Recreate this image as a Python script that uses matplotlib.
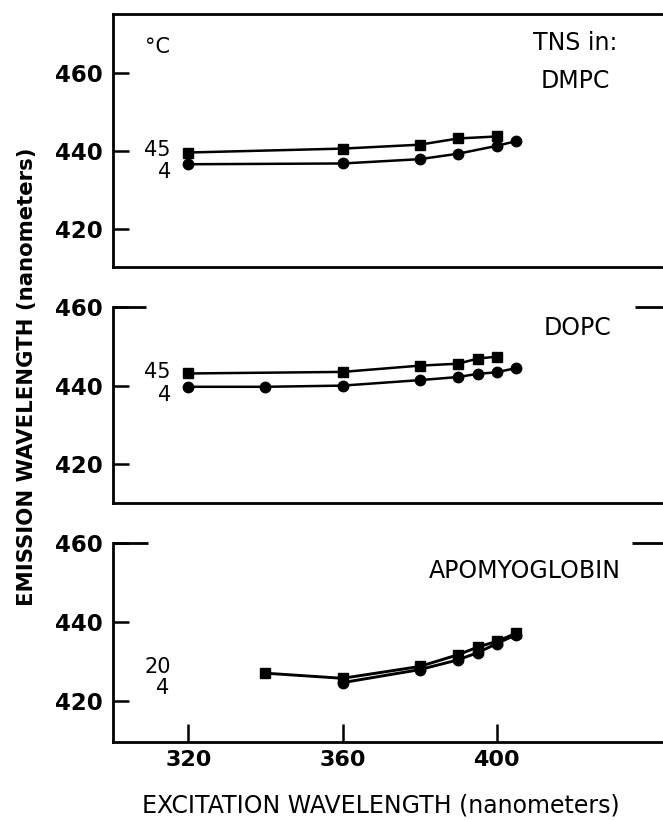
import matplotlib
matplotlib.use('Agg')
import matplotlib.pyplot as plt

# datos (longitudes de onda en nm)
dmpc_x45 = [320, 360, 380, 390, 400]
dmpc_y45 = [439.6, 440.6, 441.6, 443.2, 443.7]
dmpc_x4 = [320, 360, 380, 390, 400, 405]
dmpc_y4 = [436.6, 436.8, 437.9, 439.3, 441.3, 442.5]

dopc_x45 = [320, 360, 380, 390, 395, 400]
dopc_y45 = [443.1, 443.5, 445.1, 445.6, 446.9, 447.4]
dopc_x4 = [320, 340, 360, 380, 390, 395, 400, 405]
dopc_y4 = [439.7, 439.7, 440.0, 441.4, 442.2, 443.0, 443.4, 444.5]

apo_x20 = [340, 360, 380, 390, 395, 400, 405]
apo_y20 = [427.0, 425.7, 428.7, 431.7, 433.6, 435.1, 437.1]
apo_x4 = [360, 380, 390, 395, 400, 405]
apo_y4 = [424.6, 427.9, 430.4, 432.2, 434.5, 436.8]

yticks = [420, 440, 460]
xticks = [320, 360, 400]

plt.rcParams['font.family'] = 'DejaVu Sans'
fig = plt.figure(figsize=(6.63, 8.21), dpi=100)

L = 112.7 / 663
W = 1 - L
ax1 = fig.add_axes([L, 0.6751, W, 0.3078])
ax2 = fig.add_axes([L, 0.3877, W, 0.2380])
ax3 = fig.add_axes([L, 0.0966, W, 0.2417])

ylims = [(410.4, 475.0), (410.1, 460), (409.6, 460)]
for ax, yl in zip([ax1, ax2, ax3], ylims):
    ax.set_xlim(300.4, 443.1)
    ax.set_ylim(*yl)
    ax.set_yticks(yticks)
    ax.spines['right'].set_visible(False)
    for s in ['left', 'bottom', 'top']:
        ax.spines[s].set_linewidth(2.0)
    ax.tick_params(axis='y', direction='in', length=11.5, width=1.8,
                   labelsize=16.5, pad=7)
    ax.tick_params(axis='x', direction='in', length=13, width=1.8,
                   labelsize=16, pad=6)
    for lab in ax.get_yticklabels() + ax.get_xticklabels():
        lab.set_fontweight('bold')
    ax.set_facecolor('none')

ax1.set_xticks([])
ax2.set_xticks([])
ax3.set_xticks(xticks)
for lab in ax3.get_xticklabels():
    lab.set_fontweight('bold')

# bordes superiores cortados en los paneles de abajo
for ax, a, b in [(ax2, 0.060, 0.950), (ax3, 0.065, 0.943)]:
    ax.spines['top'].set_visible(False)
    ax.plot([0, a], [1, 1], transform=ax.transAxes, color='k', lw=2.0,
            clip_on=False, solid_capstyle='butt')
    ax.plot([b, 1], [1, 1], transform=ax.transAxes, color='k', lw=2.0,
            clip_on=False, solid_capstyle='butt')

lw = 1.8
ax1.plot(dmpc_x45, dmpc_y45, 'k-', marker='s', ms=7.2, lw=lw)
ax1.plot(dmpc_x4, dmpc_y4, 'k-', marker='o', ms=7.5, lw=lw)
ax2.plot(dopc_x45, dopc_y45, 'k-', marker='s', ms=7.2, lw=lw)
ax2.plot(dopc_x4, dopc_y4, 'k-', marker='o', ms=7.5, lw=lw)
ax3.plot(apo_x20, apo_y20, 'k-', marker='s', ms=7.2, lw=lw + 0.3)
ax3.plot(apo_x4, apo_y4, 'k-', marker='o', ms=7.5, lw=lw + 0.3)

fs = 17
fn = 15
ax1.text(312.0, 466.7, '°C', fontsize=fn, ha='center', va='center')
ax1.text(420.3, 467.7, 'TNS in:', fontsize=fs, ha='center', va='center')
ax1.text(420.3, 458.0, 'DMPC', fontsize=fs, ha='center', va='center')
ax1.text(315.5, 440.3, '45', fontsize=fn, ha='right', va='center')
ax1.text(315.5, 434.6, '4', fontsize=fn, ha='right', va='center')

ax2.text(421.0, 454.8, 'DOPC', fontsize=fs, ha='center', va='center')
ax2.text(315.5, 443.4, '45', fontsize=fn, ha='right', va='center')
ax2.text(315.5, 437.6, '4', fontsize=fn, ha='right', va='center')

ax3.text(407.2, 452.9, 'APOMYOGLOBIN', fontsize=fs, ha='center', va='center')
ax3.text(315.5, 428.5, '20', fontsize=fn, ha='right', va='center')
ax3.text(315.0, 423.2, '4', fontsize=fn, ha='right', va='center')

fig.text(27 / 663, 1 - 377 / 821, 'EMISSION WAVELENGTH (nanometers)',
         rotation=90, ha='center', va='center', fontsize=15.3, weight='bold')
fig.text(381 / 663, 1 - 805 / 821, 'EXCITATION WAVELENGTH (nanometers)',
         ha='center', va='center', fontsize=17)

fig.savefig('out.png', dpi=100)
plt.close('all')
